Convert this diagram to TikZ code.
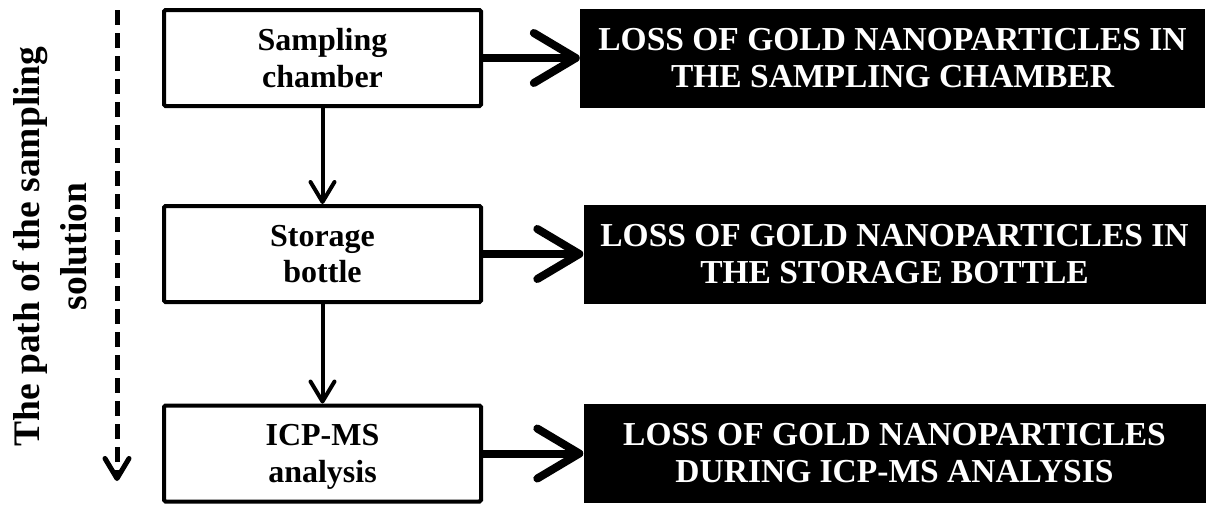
\documentclass[tikz,border=0pt]{standalone}
\usepackage{fontspec}
\setmainfont{Liberation Serif}
\usetikzlibrary{arrows.meta}
\begin{document}
\begin{tikzpicture}[x=1pt,y=-1pt,
  stepbox/.style={draw,line width=4pt,rounded corners=1.5pt,minimum width=317pt,minimum height=96pt,inner sep=0pt,align=center,font=\fontsize{32}{36.5}\selectfont\bfseries},
  lossbox/.style={fill=black,text=white,minimum width=625pt,minimum height=99pt,inner sep=0pt,align=center,font=\fontsize{33.5}{37}\selectfont\bfseries},
  bigarrow/.style={line width=8pt,-{Straight Barb[length=42pt,width=50pt,line cap=round,line join=round]}},
  thinarrow/.style={line width=4pt,-{Straight Barb[length=20pt,width=24pt,line cap=round,line join=round]}},
  patharrow/.style={line width=5pt,dash pattern=on 15pt off 8pt,-{Straight Barb[length=20pt,width=24pt,line cap=round,line join=round]}}]
\useasboundingbox (0,0) rectangle (1212,504);
\node[stepbox] (s1) at (322.5,58) {Sampling\\chamber};
\node[stepbox] (s2) at (322.5,254) {Storage\\bottle};
\node[stepbox] (s3) at (322.5,453.5) {ICP-MS\\\raisebox{0pt}[\height][0pt]{analysis}};
\node[lossbox] (l1) at (892.5,58) {LOSS OF GOLD NANOPARTICLES IN\\THE SAMPLING CHAMBER};
\node[lossbox,minimum width=622pt] (l2) at (894.5,254) {LOSS OF GOLD NANOPARTICLES IN\\THE STORAGE BOTTLE};
\node[lossbox,minimum width=622pt] (l3) at (894.5,453.5) {LOSS OF GOLD NANOPARTICLES\\DURING ICP-MS ANALYSIS};
\draw[bigarrow] (s1.east) -- (l1.west);
\draw[bigarrow] (s2.east) -- (l2.west);
\draw[bigarrow] (s3.east) -- (l3.west);
\draw[thinarrow] (s1.south) -- (s2.north);
\draw[thinarrow] (s2.south) -- (s3.north);
\coordinate (pa) at (117,10);
\coordinate (pb) at (117,481);
\draw[patharrow] (pa) -- (pb);
\node[rotate=90,align=center,font=\fontsize{37.5}{47}\selectfont\bfseries] (lab) at (50,246.5) {The path of the sampling\\solution};
\end{tikzpicture}
\end{document}
